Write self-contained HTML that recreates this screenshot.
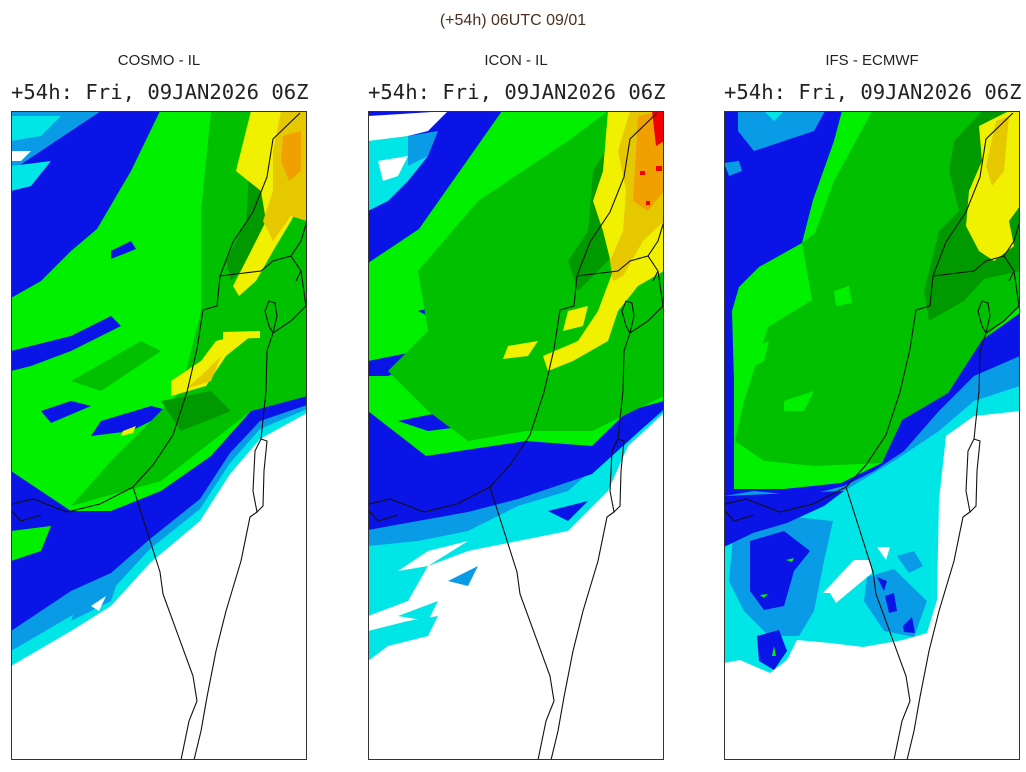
<!DOCTYPE html>
<html><head><meta charset="utf-8"><style>
body{margin:0;width:1026px;height:772px;background:#fff;position:relative;overflow:hidden;font-family:"Liberation Sans",sans-serif}
.t{position:absolute;text-align:center;white-space:nowrap}
.h{top:12px;left:0;width:1026px;font-size:16px;color:#4a3020}
.m{top:52px;font-size:15px;color:#222;width:296px}
.s{top:80px;font-family:"DejaVu Sans Mono","Liberation Mono",monospace;font-size:20.6px;color:#222;width:296px}
svg.p{position:absolute;top:111px;width:296px;height:649px;overflow:hidden}
</style></head><body>
<div class="t h">(+54h) 06UTC 09/01</div>
<div class="t m" style="left:11px">COSMO - IL</div>
<div class="t m" style="left:368px">ICON - IL</div>
<div class="t m" style="left:724px">IFS - ECMWF</div>
<div class="t s" style="left:11px">+54h: Fri, 09JAN2026 06Z</div>
<div class="t s" style="left:368px">+54h: Fri, 09JAN2026 06Z</div>
<div class="t s" style="left:724px">+54h: Fri, 09JAN2026 06Z</div>

<svg width="0" height="0" style="position:absolute"><defs>
<g id="geo" fill="none" stroke="#111" stroke-width="1.1">
<path d="M289,2 L262,28 L256,66 L242,101 L222,131 L209,165 L206,195 L192,199 L186,238 L176,281 L162,324 L142,354 L122,376 L89,393 L56,401 L22,388 L1,393"/>
<path d="M122,376 L149,461 L152,483 L182,565 L186,590"/>
<path d="M209,165 L250,160 L262,150 L280,145 L290,160 L285,170"/>
<path d="M280,145 L290,130 L296,110"/>
<path d="M290,160 L295,195 L280,210 L262,222 L258,215 L254,200 L258,190 L264,192 L266,205 L262,222 L256,240 L255,280 L250,328"/>
<path d="M250,328 L244,340 L242,380 L246,401 L252,395 L253,360 L256,330 Z"/>
<path d="M246,401 L239,406 L230,450 L215,500 L205,540 L196,586 L190,620 L183,649"/>
<path d="M186,590 L178,610 L170,649"/>
<path d="M1,400 L10,410 L30,404"/>
</g></defs></svg>

<!-- COSMO -->
<svg class="p" style="left:11px" viewBox="0 0 296 649">
<rect width="296" height="649" fill="#fff"/>
<polygon fill="#00e6e6" points="0,0 296,0 296,302 249,328 219,363 189,410 139,452 100,495 60,520 0,555"/>
<polygon fill="#0a9be6" points="0,0 296,0 296,298 249,318 219,352 189,398 139,438 100,480 60,505 0,540"/>
<polygon fill="#0a14e6" points="0,0 296,0 296,294 249,310 219,342 189,388 139,428 100,462 60,480 0,520"/>
<polygon fill="#0a9be6" points="70,480 110,460 100,490 60,510"/>
<polygon fill="#fff" points="80,495 95,485 88,500"/>
<polygon fill="#0a9be6" points="0,0 90,0 60,20 30,40 0,60"/>
<polygon fill="#00e6e6" points="0,5 50,5 30,25 0,30"/>
<polygon fill="#fff" points="0,40 20,40 10,50 0,50"/>
<polygon fill="#00e6e6" points="0,55 40,50 20,75 0,80"/>
<polygon fill="#00f000" points="149,0 296,0 296,285 240,300 200,345 150,380 100,400 60,400 0,360 0,187 30,170 60,140 86,118 120,60"/>
<polygon fill="#00f000" points="0,420 40,415 30,440 0,450"/>
<polygon fill="#0a14e6" points="0,240 60,225 100,205 110,215 60,240 20,255 0,260"/>
<polygon fill="#0a14e6" points="90,310 140,295 160,300 120,320 80,325"/>
<polygon fill="#0a14e6" points="100,140 120,130 125,138 100,148"/>
<polygon fill="#0a14e6" points="30,300 60,290 80,295 40,312"/>
<polygon fill="#00c000" points="200,0 296,0 296,285 240,300 150,370 60,395 100,350 170,280 190,200 190,100"/>
<polygon fill="#00c000" points="60,270 130,230 150,240 90,280"/>
<polygon fill="#009a00" points="240,30 262,20 262,110 240,150 220,170 215,150 235,110"/>
<polygon fill="#009a00" points="150,290 200,280 220,300 170,320"/>
<polygon fill="#f0f000" points="240,0 296,0 296,80 280,110 262,140 245,170 228,185 222,175 240,140 255,110 250,80 225,60 230,40"/>
<polygon fill="#e6c800" points="270,0 296,0 296,110 280,105 262,130 252,110 262,80 262,40"/>
<polygon fill="#f0a000" points="272,25 290,20 290,60 278,70 270,50"/>
<polygon fill="#f0f000" points="225,225 240,225 215,245 195,275 160,285 160,270 190,250 205,230"/>
<polygon fill="#e6c800" points="195,260 210,245 200,270 175,278"/>
<polygon fill="#f0f000" points="212,221 249,220 249,227 212,228"/>
<polygon fill="#f0f000" points="112,320 125,315 122,322 110,325"/>
<use href="#geo"/>
<rect x="0.5" y="0.5" width="295" height="648" fill="none" stroke="#333"/>
</svg>

<!-- ICON -->
<svg class="p" style="left:368px" viewBox="0 0 296 649">
<rect width="296" height="649" fill="#fff"/>
<polygon fill="#00e6e6" points="0,0 296,0 296,302 260,335 240,380 200,420 150,430 100,440 60,455 40,490 0,505"/>
<polygon fill="#00e6e6" points="0,520 40,510 70,505 60,525 20,535 0,550"/>
<polygon fill="#00e6e6" points="30,505 70,490 60,510"/>
<polygon fill="#fff" points="30,460 60,440 100,430 60,455"/>
<polygon fill="#0a9be6" points="0,0 296,0 296,300 240,345 200,380 150,395 100,420 50,430 0,435"/>
<polygon fill="#0a9be6" points="80,470 110,455 100,475"/>
<polygon fill="#0a14e6" points="0,0 296,0 296,298 224,363 150,388 100,401 0,419"/>
<polygon fill="#0a14e6" points="180,400 220,390 200,410"/>
<polygon fill="#fff" points="0,5 80,0 60,20 20,30 0,30"/>
<polygon fill="#00e6e6" points="0,30 40,25 60,45 40,70 20,90 0,100"/>
<polygon fill="#fff" points="10,50 40,45 30,65 15,70"/>
<polygon fill="#0a9be6" points="40,25 70,20 60,45 40,55"/>
<polygon fill="#00f000" points="134,0 296,0 296,290 260,300 224,335 158,330 58,345 0,300 0,152 51,118"/>
<polygon fill="#0a14e6" points="0,250 50,240 80,230 60,250 20,265 0,265"/>
<polygon fill="#0a14e6" points="50,200 70,195 60,205"/>
<polygon fill="#0a14e6" points="30,310 80,300 120,295 100,315 60,320"/>
<polygon fill="#00c000" points="110,90 200,30 240,0 296,0 296,285 224,320 158,320 100,330 60,300 20,260 60,220 50,160"/>
<polygon fill="#009a00" points="225,60 250,20 260,100 240,150 210,180 200,150 220,120"/>
<polygon fill="#f0f000" points="240,0 296,0 296,160 270,175 250,200 240,230 205,250 180,260 175,245 210,230 230,200 245,160 235,120 225,90 235,60"/>
<polygon fill="#f0f000" points="140,235 170,230 160,245 135,248"/>
<polygon fill="#f0f000" points="200,200 220,195 215,215 195,220"/>
<polygon fill="#e6c800" points="262,0 296,0 296,110 275,130 255,165 245,170 242,150 255,120 258,80 250,40"/>
<polygon fill="#f0a000" points="270,5 296,0 296,80 280,100 265,90 268,40"/>
<polygon fill="#f00000" points="284,0 296,0 296,30 288,35"/>
<rect x="272" y="60" width="5" height="4" fill="#f00000"/><rect x="288" y="55" width="6" height="5" fill="#f00000"/><rect x="278" y="90" width="4" height="4" fill="#f00000"/>
<use href="#geo"/>
<rect x="0.5" y="0.5" width="295" height="648" fill="none" stroke="#333"/>
</svg>

<!-- IFS -->
<svg class="p" style="left:724px" viewBox="0 0 296 649">
<rect width="296" height="649" fill="#fff"/>
<polygon fill="#00e6e6" points="0,0 296,0 296,300 250,305 222,325 215,389 213,489 203,522 179,529 139,536 106,532 73,529 63,549 46,562 16,549 0,552"/>
<polygon fill="#fff" points="99,482 130,449 146,449 148,462 112,492 106,482"/>
<polygon fill="#fff" points="153,436 166,436 162,449"/>
<polygon fill="#0a9be6" points="0,0 296,0 296,275 250,290 215,320 170,350 120,380 60,400 0,405"/>
<polygon fill="#0a9be6" points="10,415 60,405 109,410 100,450 90,500 75,525 45,525 20,500 5,470"/>
<polygon fill="#0a9be6" points="143,466 170,458 203,490 190,526 160,520 140,490"/>
<polygon fill="#0a9be6" points="173,445 190,440 199,455 185,462"/>
<polygon fill="#0a14e6" points="0,0 296,0 296,245 250,265 215,300 180,340 150,360 120,375 80,385 30,380 0,385"/>
<polygon fill="#0a14e6" points="0,385 120,380 100,395 63,412 29,422 0,436"/>
<polygon fill="#0a14e6" points="26,430 60,420 86,440 70,460 60,495 40,499 26,480"/>
<polygon fill="#0a14e6" points="33,525 55,519 63,540 50,559 35,550"/>
<polygon fill="#0a14e6" points="153,466 163,470 160,480"/>
<polygon fill="#0a14e6" points="161,485 170,482 173,500 165,502"/>
<polygon fill="#0a14e6" points="179,515 188,506 191,522 180,521"/>
<polygon fill="#00f000" points="62,449 70,447 68,451"/><polygon fill="#00f000" points="36,484 44,483 40,487"/><polygon fill="#00f000" points="50,535 52,545 48,545"/>
<polygon fill="#0a9be6" points="14,0 101,0 90,20 60,30 30,40 14,20"/>
<polygon fill="#00e6e6" points="40,0 60,0 50,10"/>
<polygon fill="#0a9be6" points="0,52 15,50 18,60 5,65"/>
<polygon fill="#00f000" points="118,0 296,0 296,202 258,229 224,282 178,309 158,352 117,372 60,378 10,378 10,270 8,200 15,176 35,156 78,132 89,89 110,30"/>
<polygon fill="#00c000" points="148,0 240,0 296,0 296,196 258,229 224,282 178,309 158,352 91,355 40,350 11,330 20,290 44,216 88,189 78,132 91,122 110,70"/>
<polygon fill="#00f000" points="20,240 45,230 40,250 25,258"/>
<polygon fill="#00f000" points="110,180 125,175 128,192 112,195"/>
<polygon fill="#00f000" points="60,290 90,280 80,300 60,300"/>
<polygon fill="#009a00" points="230,30 258,0 296,0 296,160 260,168 240,190 205,210 200,180 215,120 235,100 225,60"/>
<polygon fill="#f0f000" points="255,15 285,0 296,0 296,95 285,110 290,135 270,150 255,140 242,115 245,80 258,50"/>
<polygon fill="#e6c800" points="272,10 285,5 280,60 268,75 262,55"/>
<use href="#geo"/>
<rect x="0.5" y="0.5" width="295" height="648" fill="none" stroke="#333"/>
</svg>
</body></html>
